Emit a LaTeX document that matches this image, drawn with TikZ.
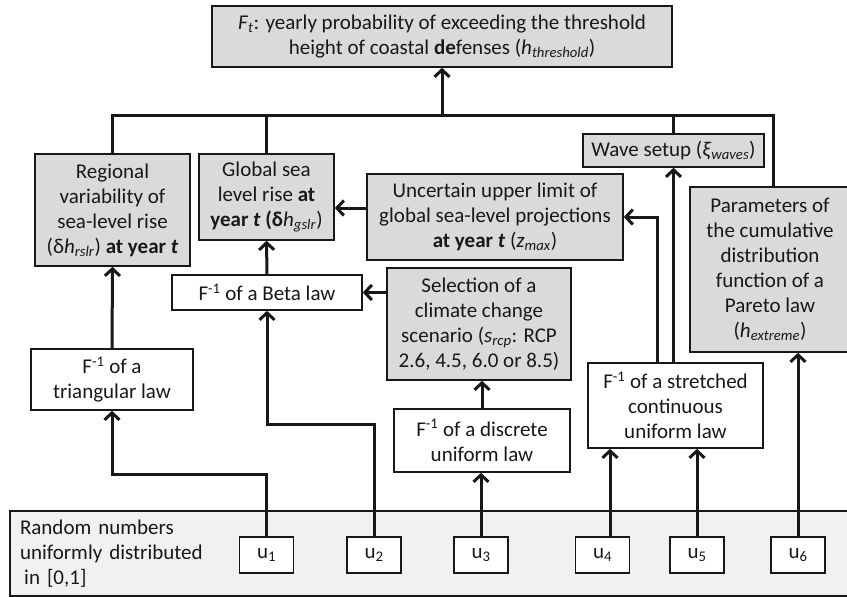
\documentclass[tikz,border=0pt]{standalone}
\usepackage{fontspec}
\setmainfont{Carlito}
\usetikzlibrary{arrows.meta}
\definecolor{boxgray}{RGB}{218,218,218}
\definecolor{randgray}{RGB}{240,241,243}
\definecolor{ink}{RGB}{24,24,24}
\tikzset{
  base/.style={draw=ink, line width=1.6pt, align=center, inner sep=0pt,
    font=\fontsize{21}{25}\selectfont, text=ink},
  gbox/.style={base, fill=boxgray},
  wbox/.style={base, fill=white},
  ln/.style={draw=ink, line width=3pt},
  arr/.style={ln, -{Straight Barb[length=7pt,width=15pt]}}
}
\begin{document}
\begin{tikzpicture}[x=1pt,y=-1pt]
\useasboundingbox (0,0) rectangle (847,597);
\clip (0,0) rectangle (847,597);
\fill[white] (0,0) rectangle (847,597);

% random numbers band
\node[base, fill=randgray, align=left, text width=820pt, inner xsep=10pt,
  minimum height=85pt] (rand) at (430,553.5)
  {Random numbers\\ uniformly distributed\\ \hspace{0.2em}in [0,1]};

% top box
\node[gbox, minimum width=460pt, minimum height=61pt] (top) at (442,36.5)
  {\textit{F}\textsubscript{\textit{t}}: yearly probability of exceeding the threshold\\
   height of coastal \textbf{de}fenses (\textit{h}\textsubscript{\textit{threshold}})};

% second level
\node[gbox, minimum width=155pt, minimum height=112pt] (reg) at (112.5,210)
  {Regional\\ variability of\\ sea-level rise\\ (δ\textit{h}\textsubscript{\textit{rslr}}) \textbf{at year \textit{t}}};
\node[gbox, minimum width=135pt, minimum height=86pt] (glob) at (266.5,197)
  {Global sea\\ level rise \textbf{at}\\ \textbf{year \textit{t} (δ}\textit{h}\textsubscript{\textit{gslr}})};
\node[gbox, minimum width=256pt, minimum height=86pt] (unc) at (495,217)
  {Uncertain upper limit of\\ global sea-level projections\\ \textbf{at year \textit{t}} (\textit{z}\textsubscript{\textit{max}})};
\node[gbox, minimum width=181pt, minimum height=33pt] (wave) at (673.5,150.5)
  {Wave setup (\textit{ξ}\textsubscript{\textit{waves}})};
\node[gbox, minimum width=160pt, minimum height=165pt] (par) at (770,269.5)
  {Parameters of\\ the cumulative\\ distribution\\ function of a\\ Pareto law\\ (\textit{h}\textsubscript{\textit{extreme}})};

% third level
\node[wbox, minimum width=190pt, minimum height=35pt] (beta) at (267,292.5)
  {F\textsuperscript{-1} of a Beta law};
\node[gbox, minimum width=184pt, minimum height=112pt] (sel) at (479,324)
  {Selection of a\\ climate change\\ scenario (\textit{s}\textsubscript{\textit{rcp}}: RCP\\ 2.6, 4.5, 6.0 or 8.5)};
\node[wbox, minimum width=162pt, minimum height=61pt] (tri) at (112,379.5)
  {F\textsuperscript{-1} of a\\ triangular law};
\node[wbox, minimum width=176pt, minimum height=63pt] (disc) at (482,440.5)
  {F\textsuperscript{-1} of a discrete\\ uniform law};
\node[wbox, minimum width=175pt, minimum height=85pt] (str) at (675.5,405.5)
  {F\textsuperscript{-1} of a stretched\\ continuous\\ uniform law};

% u boxes
\foreach \n/\x in {1/266.5,2/374,3/481,4/602.5,5/697,6/798}{
  \node[wbox, minimum width=54pt, minimum height=36pt] (u\n) at (\x,555)
    {u\textsubscript{\n}};
}

% bus to top
\coordinate (busL) at (112,115);
\coordinate (busR) at (773,115);
\draw[ln] (reg.north) -- (reg.north |- busL) -- (busR) -- (busR |- par.north);
\draw[ln] (glob.north) -- (glob.north |- busL);
\draw[ln] (wave.north) -- (wave.north |- busL);
\draw[arr] (top.south |- busL) -- (top.south);

% arrows between boxes
\coordinate (ug) at ([yshift=-11pt]glob.east);
\draw[arr] (ug -| unc.west) -- (ug);
\draw[arr] (sel.west |- beta.east) -- (beta.east);
\draw[arr] (beta.north) -- (glob.south);
\draw[arr] (tri.north) -- (reg.south);
\draw[arr] (disc.north) -- (disc.north |- sel.south);
\draw[arr] ([xshift=-18.5pt]str.north) |- (unc.east);
\draw[arr] (str.north -| wave.south) -- (wave.south);

% from random numbers
\coordinate (k1) at (0,474);
\coordinate (k2) at (0,424);
\draw[arr] (u1.north) -- (u1.north |- k1) -- (tri.south |- k1) -- (tri.south);
\draw[arr] (u2.north) -- (u2.north |- k2) -- (beta.south |- k2) -- (beta.south);
\draw[arr] (u3.north) -- (u3.north |- disc.south);
\draw[arr] ([xshift=7.5pt]u4.north) -- ([xshift=7.5pt]u4.north |- str.south);
\draw[arr] (u5.north) -- (u5.north |- str.south);
\draw[arr] (u6.north) -- (u6.north |- par.south);
\end{tikzpicture}
\end{document}
